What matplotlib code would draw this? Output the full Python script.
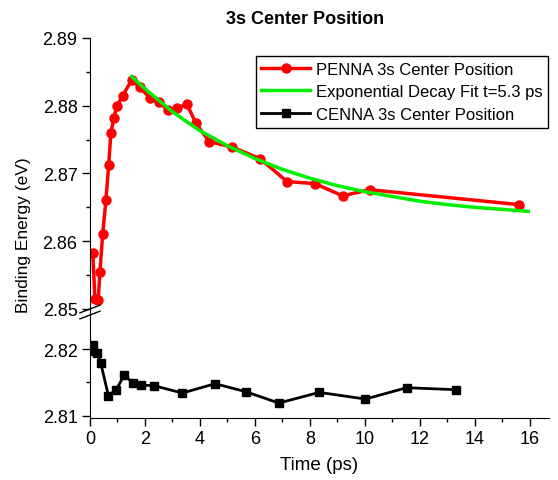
import matplotlib.pyplot as plt
import numpy as np

plt.rcParams['font.family'] = ['Liberation Sans', 'DejaVu Sans']

# PENNA 3s center position (red)
penna_t = [0.10, 0.18, 0.30, 0.36, 0.46, 0.58, 0.68, 0.76, 0.87, 0.97, 1.19, 1.52,
           1.82, 2.18, 2.51, 2.84, 3.18, 3.52, 3.85, 4.34, 5.16, 6.18, 7.17, 8.18,
           9.19, 10.18, 15.6]
penna_e = [2.8583, 2.8514, 2.8513, 2.8554, 2.8610, 2.8661, 2.8713, 2.8760, 2.8782,
           2.8799, 2.8815, 2.8838, 2.8827, 2.8811, 2.8806, 2.8793, 2.8796, 2.8803,
           2.8774, 2.8747, 2.8739, 2.8722, 2.8688, 2.8685, 2.8667, 2.8676, 2.8654]

# exponential decay fit (green)
fit_t = [1.52, 2, 3, 4, 5, 6, 7, 8, 9, 10, 11, 12, 13, 14, 15, 15.94]
fit_e = [2.8843, 2.8825, 2.8791, 2.8763, 2.8741, 2.8722, 2.8706, 2.8693, 2.8682,
         2.8673, 2.8666, 2.8659, 2.8654, 2.8650, 2.8647, 2.8644]

# CENNA 3s center position (black)
cenna_t = [0.10, 0.12, 0.27, 0.39, 0.67, 0.95, 1.25, 1.55, 1.85, 2.33, 3.36, 4.55,
           5.67, 6.87, 8.34, 10.02, 11.52, 13.31]
cenna_e = [2.8197, 2.8206, 2.8194, 2.8179, 2.8130, 2.8139, 2.8161, 2.8149, 2.8146,
           2.8145, 2.8134, 2.8148, 2.8136, 2.8119, 2.8135, 2.8125, 2.8142, 2.8139]

fig = plt.figure(figsize=(5.58, 4.81), dpi=100)
ax_top = fig.add_axes([0.1613, 0.3514, 0.8227, 0.5676])
ax_bot = fig.add_axes([0.1613, 0.1289, 0.8227, 0.2225])

l1, = ax_top.plot(penna_t, penna_e, '-o', color='#ff0000', lw=2.5, ms=6.5,
                  label='PENNA 3s Center Position')
l2, = ax_top.plot(fit_t, fit_e, '-', color='#00ee00', lw=2.5,
                  label='Exponential Decay Fit t=5.3 ps')
l3, = ax_bot.plot(cenna_t, cenna_e, '-s', color='black', lw=2, ms=5.5,
                  label='CENNA 3s Center Position')

for ax in (ax_top, ax_bot):
    ax.set_xlim(0, 16.7)
    ax.spines['top'].set_visible(False)
    ax.spines['right'].set_visible(False)
    ax.tick_params(labelsize=13, width=1, length=6, pad=3)
    ax.tick_params(which='minor', width=1, length=3)

ax_top.spines['bottom'].set_visible(False)
ax_top.tick_params(axis='x', which='both', bottom=False, labelbottom=False)
ax_top.set_ylim(2.8497, 2.89)
ax_top.set_yticks([2.85, 2.86, 2.87, 2.88, 2.89])
ax_top.set_yticks([2.855, 2.865, 2.875, 2.885], minor=True)
ax_top.set_yticklabels(['2.85', '2.86', '2.87', '2.88', '2.89'])

ax_bot.set_ylim(2.80966, 2.8257)
ax_bot.set_yticks([2.81, 2.82])
ax_bot.set_yticks([2.815], minor=True)
ax_bot.set_yticklabels(['2.81', '2.82'])
ax_bot.set_xticks([0, 2, 4, 6, 8, 10, 12, 14, 16])
ax_bot.set_xticks([1, 3, 5, 7, 9, 11, 13, 15], minor=True)
ax_bot.set_xlabel('Time (ps)', fontsize=13.5, labelpad=6)

fig.text(0.042, 1 - 235 / 481, 'Binding Energy (eV)', rotation=90,
         fontsize=12.5, ha='center', va='center')
fig.text(305.5 / 558, 1 - 20 / 481, '3s Center Position', fontsize=13,
         fontweight='bold', ha='center', va='center')

# axis break marks
bx = 90 / 558
for yy in (310 / 481, 316 / 481):
    y0 = 1 - yy
    fig.add_artist(plt.Line2D([bx - 0.018, bx + 0.018], [y0 - 0.008, y0 + 0.008],
                              color='black', lw=1, transform=fig.transFigure))

leg = ax_top.legend(handles=[l1, l2, l3], loc='upper right',
                    bbox_to_anchor=(548 / 558, 1 - 57 / 481),
                    bbox_transform=fig.transFigure, fontsize=12, numpoints=1,
                    fancybox=False, edgecolor='black', framealpha=1,
                    handlelength=2.9, handletextpad=0.35, borderpad=0.35,
                    labelspacing=0.45, borderaxespad=0)
leg.get_frame().set_linewidth(1)

fig.savefig('out.png', dpi=100)
